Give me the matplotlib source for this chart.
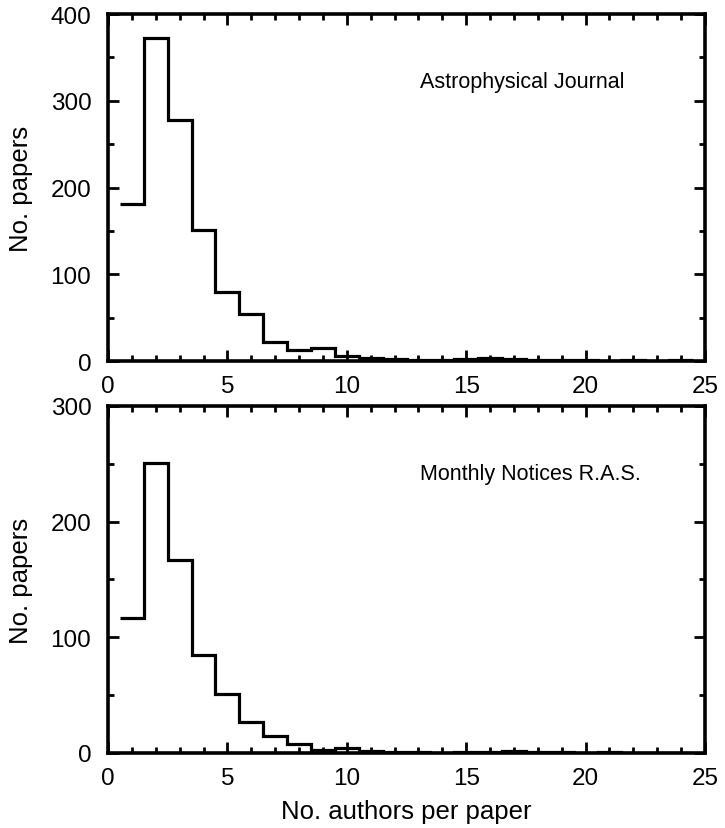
import numpy as np
import matplotlib
matplotlib.use("Agg")
import matplotlib.pyplot as plt
from matplotlib.ticker import MultipleLocator

plt.rcParams['font.family'] = ['Liberation Sans', 'DejaVu Sans']

# ------------------------------
# Data: papers per number of authors (bins centred on 1..24)
# ------------------------------
n_authors = np.arange(1, 25)
apj_counts = [181, 372, 278, 151, 80, 54, 22, 13, 15, 6, 3, 2,
              1, 1, 2, 3, 2, 1, 1, 1, 0, 1, 0, 1]
mnras_counts = [117, 251, 167, 85, 51, 27, 15, 8, 3, 4, 2, 1,
                1, 0, 1, 1, 2, 1, 1, 0, 1, 0, 0, 0]
journals = ["Astrophysical Journal", "Monthly Notices R.A.S."]
ymax = [400, 300]

edges = np.append(n_authors - 0.5, n_authors[-1] + 0.5)

fig = plt.figure(figsize=(7.25, 8.29), dpi=100)
ax_top = fig.add_axes([0.149, 0.5633, 0.8234, 0.4186])
ax_bot = fig.add_axes([0.149, 0.0905, 0.8234, 0.4186])

for ax, counts, name, top in zip([ax_top, ax_bot], [apj_counts, mnras_counts], journals, ymax):
    ax.stairs(counts, edges, baseline=None, color="black", linewidth=2.3)
    ax.set_xlim(0, 25)
    ax.set_ylim(0, top)
    ax.xaxis.set_major_locator(MultipleLocator(5))
    ax.xaxis.set_minor_locator(MultipleLocator(1))
    ax.yaxis.set_major_locator(MultipleLocator(100))
    ax.yaxis.set_minor_locator(MultipleLocator(50))
    ax.tick_params(which="both", direction="in", top=True, right=True,
                   labelsize=17.5, width=2, color="black")
    ax.tick_params(which="major", length=8)
    ax.tick_params(which="minor", length=4.5)
    ax.tick_params(axis="x", pad=10)
    ax.tick_params(axis="y", pad=12)
    for s in ax.spines.values():
        s.set_linewidth(2.6)
    ax.set_ylabel("No. papers", fontsize=18.5)
    ax.yaxis.set_label_coords(-0.126, 0.5)
    ax.text(13.07, top * 0.79, name, fontsize=15.5, ha="left", va="baseline")

ax_bot.set_xlabel("No. authors per paper", fontsize=18.5)
ax_bot.xaxis.set_label_coords(0.5, -0.133)

fig.savefig("out.png", dpi=100)
